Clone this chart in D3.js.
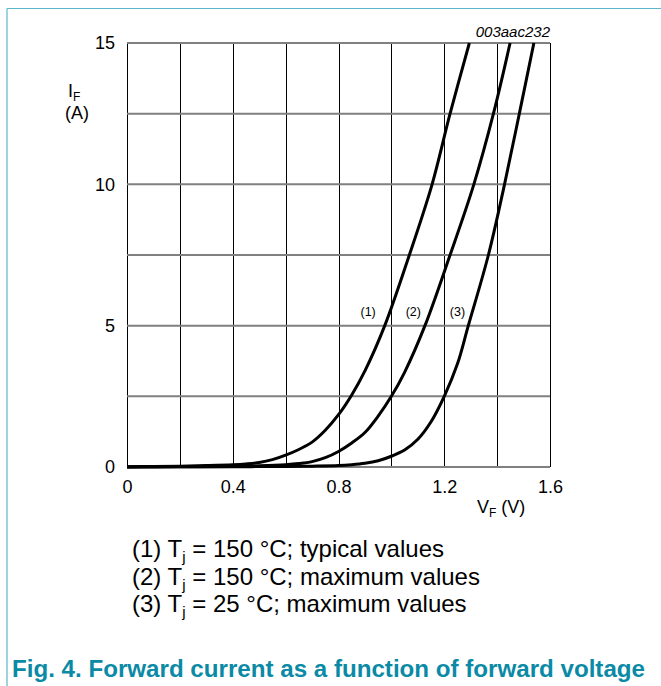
<!DOCTYPE html>
<html>
<head>
<meta charset="utf-8">
<script src="https://cdn.jsdelivr.net/npm/d3@7"></script>
<style>
  html, body { margin: 0; padding: 0; background: #fff; }
  svg { display: block; font-family: "Liberation Sans", Arial, sans-serif; }
</style>
</head>
<body>
<svg id="chart" width="661" height="686"></svg>
<script>
// ---- data ----
const xTicks = [0, 0.4, 0.8, 1.2, 1.6];
const yTicks = [0, 5, 10, 15];
const xGrid = [0, 0.2, 0.4, 0.6, 0.8, 1.0, 1.2, 1.4, 1.6];
const yGrid = [0, 2.5, 5, 7.5, 10, 12.5, 15];

const curve1V = [0, 0.1, 0.2, 0.3, 0.4, 0.45, 0.5, 0.55, 0.6, 0.65, 0.7, 0.75, 0.8, 0.85, 0.9, 0.975, 1.068, 1.154, 1.222, 1.295];
const curve1I = [0.01, 0.02, 0.03, 0.05, 0.08, 0.11, 0.16, 0.26, 0.42, 0.62, 0.88, 1.3, 1.85, 2.55, 3.4, 5.0, 7.5, 10, 12.5, 15];

const curve2V = [0, 0.2, 0.4, 0.5, 0.6, 0.65, 0.7, 0.75, 0.8, 0.85, 0.9, 0.95, 1.0, 1.05, 1.127, 1.222, 1.312, 1.386, 1.449];
const curve2I = [0.0, 0.01, 0.02, 0.04, 0.08, 0.12, 0.19, 0.33, 0.55, 0.85, 1.22, 1.8, 2.5, 3.35, 5.0, 7.5, 10, 12.5, 15];

const curve3V = [0, 0.2, 0.4, 0.6, 0.7, 0.8, 0.85, 0.9, 0.95, 1.0, 1.05, 1.1, 1.15, 1.2, 1.25, 1.291, 1.367, 1.428, 1.484, 1.539];
const curve3I = [0, 0.005, 0.01, 0.02, 0.03, 0.05, 0.08, 0.13, 0.22, 0.38, 0.6, 0.98, 1.6, 2.5, 3.65, 5.0, 7.5, 10, 12.5, 15];

const curveLabels = ["(1)", "(2)", "(3)"];
const legendNums = ["(1)", "(2)", "(3)"];
const legendTemps = ["150 °C; typical values", "150 °C; maximum values", "25 °C; maximum values"];
const figCode = "003aac232";
const title = "Fig. 4. Forward current as a function of forward voltage";

// ---- layout ----
const svg = d3.select("#chart");
const x = d3.scaleLinear().domain([0, 1.6]).range([127, 550]);
const y = d3.scaleLinear().domain([0, 15]).range([467, 43]);

// frame
svg.append("line").attr("x1", 7).attr("x2", 661).attr("y1", 8.5).attr("y2", 8.5)
  .attr("stroke", "#5bb6ca").attr("stroke-width", 1.2);
svg.append("line").attr("x1", 7).attr("x2", 7).attr("y1", 8.5).attr("y2", 686)
  .attr("stroke", "#5bb6ca").attr("stroke-width", 1.2);

// grid
const g = svg.append("g");
g.selectAll(".vg").data(xGrid).join("line")
  .attr("x1", d => Math.round(x(d)) + 0.5).attr("x2", d => Math.round(x(d)) + 0.5)
  .attr("y1", y(15)).attr("y2", y(0))
  .attr("stroke", "#000").attr("stroke-width", 1);
g.selectAll(".hg").data(yGrid).join("line")
  .attr("x1", x(0)).attr("x2", x(1.6))
  .attr("y1", d => y(d)).attr("y2", d => y(d))
  .attr("stroke", "#808080").attr("stroke-width", 2);

// axes (tick labels only, via d3 axes)
const xAxis = d3.axisBottom(x).tickValues(xTicks).tickSize(0).tickPadding(0)
  .tickFormat(d => d === 0 ? "0" : d3.format(".1f")(d));
const xa = svg.append("g").attr("transform", `translate(0,${y(0) + 13})`).call(xAxis);
xa.select(".domain").remove();
xa.selectAll("text").attr("font-size", 18).attr("fill", "#000")
  .attr("font-family", "Liberation Sans, Arial, sans-serif");

const yAxis = d3.axisLeft(y).tickValues(yTicks).tickSize(0).tickPadding(0);
const ya = svg.append("g").attr("transform", `translate(${x(0) - 12},0)`).call(yAxis);
ya.select(".domain").remove();
ya.selectAll("text").attr("font-size", 18).attr("fill", "#000")
  .attr("font-family", "Liberation Sans, Arial, sans-serif");

// curves
const line = d3.line().x(d => x(d[0])).y(d => y(d[1])).curve(d3.curveCatmullRom.alpha(0.5));
const series = [
  d3.zip(curve1V, curve1I),
  d3.zip(curve2V, curve2I),
  d3.zip(curve3V, curve3I)
];
svg.append("g").selectAll("path").data(series).join("path")
  .attr("d", line).attr("fill", "none").attr("stroke", "#000")
  .attr("stroke-width", 3).attr("stroke-linejoin", "round");

// curve labels
const labelV = [0.912, 1.083, 1.25];
svg.append("g").selectAll("text").data(curveLabels).join("text")
  .attr("x", (d, i) => x(labelV[i])).attr("y", y(5.5) + 4.5)
  .attr("text-anchor", "middle").attr("font-size", 12.5).text(d => d);

// axis titles
const yt = svg.append("text").attr("x", 68).attr("y", 97).attr("font-size", 18);
yt.append("tspan").text("I");
yt.append("tspan").attr("font-size", 12).attr("dy", 4).text("F");
svg.append("text").attr("x", 65).attr("y", 119).attr("font-size", 18).text("(A)");

const xt = svg.append("text").attr("x", 477).attr("y", 513).attr("font-size", 18);
xt.append("tspan").text("V");
xt.append("tspan").attr("font-size", 12).attr("dy", 4).text("F");
xt.append("tspan").attr("dy", -4).text(" (V)");

// figure code
svg.append("text").attr("x", 550).attr("y", 37).attr("text-anchor", "end")
  .attr("font-size", 15).attr("font-style", "italic").text(figCode);

// legend
const lg = svg.append("g");
legendNums.forEach((n, i) => {
  const t = lg.append("text").attr("x", 132).attr("y", 557 + i * 27.5).attr("font-size", 24);
  t.append("tspan").text(n + " T");
  t.append("tspan").attr("font-size", 15).attr("dy", 5).text("j");
  t.append("tspan").attr("dy", -5).text(" = " + legendTemps[i]);
});

// title
svg.append("text").attr("x", 12).attr("y", 677).attr("font-size", 23)
  .attr("font-weight", "bold").attr("fill", "#0b8aa6")
  .attr("textLength", 633).attr("lengthAdjust", "spacingAndGlyphs").text(title);
</script>
</body>
</html>
